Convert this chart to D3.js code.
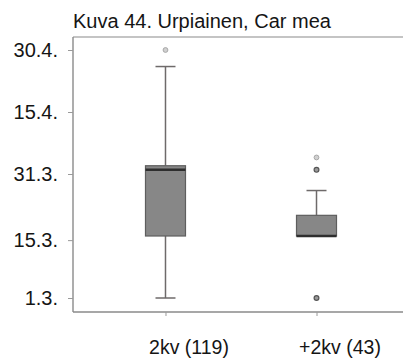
<!DOCTYPE html>
<html>
<head>
<meta charset="utf-8">
<script src="https://cdn.jsdelivr.net/npm/d3@7"></script>
<style>
  html, body { margin: 0; padding: 0; background: #fff; }
  svg { display: block; }
  text { font-family: "Liberation Sans", Arial, Helvetica, sans-serif; fill: #151515; }
</style>
</head>
<body>
<svg id="chart" width="403" height="358"></svg>
<script>
// Box plot of observation dates (day.month.) per age group
const title = "Kuva 44. Urpiainen, Car mea";
const categories = ["2kv (119)", "+2kv (43)"];
const lowWhisker = ["03-01", "03-16"];
const q1 = ["03-16", "03-16"];
const median = ["04-01", "03-16"];
const q3 = ["04-02", "03-21"];
const highWhisker = ["04-26", "03-27"];
const outliers = [[], ["04-01", "03-01"]];
const extremes = [["04-30"], ["04-04"]];
const yTicks = ["04-30", "04-15", "03-31", "03-15", "03-01"];

const parse = d3.utcParse("%m-%d");
const fmt = d3.utcFormat("%-d.%-m.");

const svg = d3.select("#chart");
const plotLeft = 73, plotTop = 37, plotBottom = 312, plotRight = 409;

const y = d3.scaleUtc()
  .domain([parse("03-01"), parse("04-30")])
  .range([298, 50]);

const x = d3.scalePoint()
  .domain(categories)
  .range([plotLeft, plotRight])
  .padding(0.6125);

// frame
svg.append("line").attr("x1", plotLeft).attr("x2", plotRight).attr("y1", plotTop).attr("y2", plotTop)
  .attr("stroke", "#8a8a8a").attr("stroke-width", 1.2);

// y axis
const yAxis = svg.append("g")
  .attr("transform", `translate(${plotLeft},0)`)
  .call(d3.axisLeft(y).tickValues(yTicks.map(parse)).tickFormat(fmt).tickSize(5).tickPadding(10));
yAxis.select(".domain").attr("d", `M0,${plotTop}V${plotBottom}`).attr("stroke", "#8a8a8a").attr("stroke-width", 1.4);
yAxis.selectAll(".tick line").attr("stroke", "#9a9a9a");
yAxis.selectAll(".tick text").style("font-size", "20px").attr("fill", "#151515");

// x axis
const xAxis = svg.append("g")
  .attr("transform", `translate(0,${plotBottom})`)
  .call(d3.axisBottom(x).tickSize(4).tickPadding(24));
xAxis.select(".domain").attr("d", `M${plotLeft},0H${plotRight}`).attr("stroke", "#8a8a8a").attr("stroke-width", 1.4);
xAxis.selectAll(".tick line").attr("stroke", "#9a9a9a");
xAxis.selectAll(".tick text").style("font-size", "19.5px").attr("fill", "#151515").attr("dx", 23);

// title
svg.append("text").attr("x", plotLeft).attr("y", 27.5).style("font-size", "20px").text(title);

const boxW = 40, capW = 20;
const g = svg.append("g");
categories.forEach((c, i) => {
  const cx = x(c);
  // whisker stems
  g.append("line").attr("x1", cx).attr("x2", cx)
    .attr("y1", y(parse(highWhisker[i]))).attr("y2", y(parse(q3[i])))
    .attr("stroke", "#6e6a6a").attr("stroke-width", 1.5);
  g.append("line").attr("x1", cx).attr("x2", cx)
    .attr("y1", y(parse(q1[i]))).attr("y2", y(parse(lowWhisker[i])))
    .attr("stroke", "#6e6a6a").attr("stroke-width", 1.5);
  // whisker caps
  [highWhisker[i], lowWhisker[i]].forEach(v => {
    g.append("line").attr("x1", cx - capW / 2).attr("x2", cx + capW / 2)
      .attr("y1", y(parse(v))).attr("y2", y(parse(v)))
      .attr("stroke", "#6e6a6a").attr("stroke-width", 1.5);
  });
  // box
  const yTop = y(parse(q3[i])), yBot = y(parse(q1[i]));
  g.append("rect").attr("x", cx - boxW / 2).attr("y", yTop)
    .attr("width", boxW).attr("height", yBot - yTop)
    .attr("fill", "#878787").attr("stroke", "#5e5e5e").attr("stroke-width", 1.2);
  // median
  g.append("line").attr("x1", cx - boxW / 2).attr("x2", cx + boxW / 2)
    .attr("y1", y(parse(median[i]))).attr("y2", y(parse(median[i])))
    .attr("stroke", "#2e2e2e").attr("stroke-width", 2.5);
  // outliers
  outliers[i].forEach(v => {
    g.append("circle").attr("cx", cx).attr("cy", y(parse(v))).attr("r", 2.4)
      .attr("fill", "#9a9a9a").attr("stroke", "#555").attr("stroke-width", 1.2);
  });
  extremes[i].forEach(v => {
    g.append("circle").attr("cx", cx).attr("cy", y(parse(v))).attr("r", 2.4)
      .attr("fill", "#d0d0d0").attr("stroke", "#a8a8a8").attr("stroke-width", 1);
  });
});
</script>
</body>
</html>
